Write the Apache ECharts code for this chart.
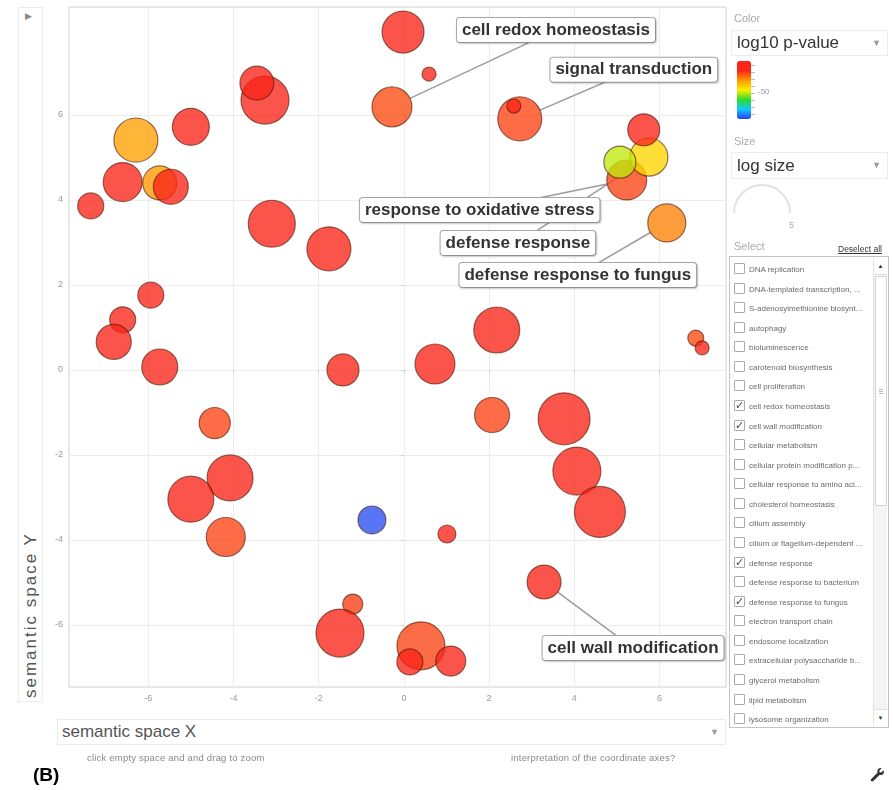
<!DOCTYPE html>
<html>
<head>
<meta charset="utf-8">
<title>semantic space</title>
<script src="https://cdn.jsdelivr.net/npm/echarts@6/dist/echarts.min.js"></script>
<style>
  html, body { margin: 0; padding: 0; background: #fff; width: 893px; height: 790px; overflow: hidden;
    font-family: Arial, "Liberation Sans", sans-serif; }
  #chart { position: absolute; left: 0; top: 0; width: 893px; height: 790px; }
  .abs { position: absolute; white-space: nowrap; }
  .box { position: absolute; box-sizing: border-box; border: 1px solid #ececec; background: #fff; }
  .cap { position: absolute; font-size: 11px; color: #aaa; }
  .drop { position: absolute; box-sizing: border-box; border: 1px solid #ececec; background: #fff;
    font-size: 17px; color: #333; padding-left: 5px; }
  .arrow { position: absolute; right: 6px; font-size: 9px; color: #999; }
  .row { position: absolute; left: 4px; width: 138px; height: 14px; font-size: 8px; color: #6a6a6a;
    white-space: nowrap; overflow: hidden; }
  .chk { position: absolute; left: 0; top: 0; width: 11px; height: 11px; box-sizing: border-box;
    border: 1px solid #aaa; border-radius: 1px; background: #fff; font-size: 11px; line-height: 10px;
    color: #444; text-align: center; font-family: "DejaVu Sans", sans-serif; }
  .row span { position: absolute; left: 15px; top: 1px; line-height: 11px; white-space: nowrap; }
  .tk { position: absolute; left: 751px; width: 4px; height: 1px; background: #bbb; }
</style>
</head>
<body>
<div id="chart"></div>

<!-- y axis title panel -->
<div class="box" style="left:18px;top:7px;width:25px;height:695px;"></div>
<div class="abs" style="left:25px;top:11px;font-size:9px;color:#888;">&#9654;</div>
<div class="abs" style="left:20px;top:526px;height:172px;width:22px;writing-mode:vertical-rl;transform:rotate(180deg);
  font-size:17px;letter-spacing:2px;color:#555;text-align:left;line-height:22px;">semantic space Y</div>

<!-- x axis title panel -->
<div class="box" style="left:57px;top:719px;width:669px;height:26px;">
  <div class="abs" style="left:4px;top:2px;font-size:17px;color:#555;">semantic space X</div>
  <div class="arrow" style="top:7px;">&#9660;</div>
</div>
<div class="abs" style="left:87px;top:752px;font-size:9.5px;color:#888;letter-spacing:0.2px;">click empty space and and drag to zoom</div>
<div class="abs" style="left:511px;top:752px;font-size:9.5px;color:#888;letter-spacing:0.2px;">interpretation of the coordinate axes?</div>
<div class="abs" style="left:33px;top:764px;font-size:19px;font-weight:bold;color:#000;">(B)</div>

<!-- side controls -->
<div class="cap" style="left:734px;top:12px;">Color</div>
<div class="drop" style="left:731px;top:30px;width:157px;height:26px;line-height:24px;">log10 p-value<div class="arrow" style="top:0;">&#9660;</div></div>
<div class="tk" style="top:65px"></div><div class="tk" style="top:72px"></div><div class="tk" style="top:79px"></div>
<div class="tk" style="top:86px"></div><div class="tk" style="top:93px"></div><div class="tk" style="top:100px"></div>
<div class="tk" style="top:107px"></div><div class="tk" style="top:114px"></div>
<div class="abs" style="left:758px;top:87px;font-size:8px;color:#999;">-50</div>

<div class="cap" style="left:734px;top:135px;">Size</div>
<div class="drop" style="left:731px;top:152px;width:157px;height:27px;line-height:25px;">log size<div class="arrow" style="top:0;">&#9660;</div></div>
<svg class="abs" style="left:728px;top:180px;" width="80" height="52">
  <path d="M6 33 A28 28 0 0 1 62 33" fill="none" stroke="#e2e2e2" stroke-width="2"/>
  <text x="61" y="48" font-size="9" fill="#aaa" font-family="Arial">5</text>
</svg>

<div class="cap" style="left:734px;top:240px;">Select</div>
<div class="abs" style="left:838px;top:244px;font-size:8.5px;color:#333;text-decoration:underline;">Deselect all</div>
<div id="list" class="box" style="left:729px;top:256px;width:160px;height:472px;border-color:#c4c4c4;"></div>

<!-- wrench -->
<svg class="abs" style="left:869px;top:767px;" width="16" height="16" viewBox="0 0 16 16">
  <path d="M14.5 3.2 L12.3 5.4 L10.6 5.2 L10.4 3.5 L12.6 1.3 C10.6 0.6 8.4 1.9 8.3 4.1 C8.3 4.6 8.4 5.1 8.6 5.5
           L2.2 11.9 C1.6 12.5 1.6 13.5 2.2 14.1 C2.8 14.7 3.8 14.7 4.4 14.1 L10.8 7.7 C11.2 7.9 11.7 8 12.2 8
           C14.4 7.9 15.7 5.7 14.5 3.2 Z" fill="#333"/>
</svg>

<script>
// GO terms listed in the selection panel (checked ones are labelled in the plot)
const selectTerms = [
  'DNA replication', 'DNA-templated transcription, ...', 'S-adenosylmethionine biosynt...',
  'autophagy', 'bioluminescence', 'carotenoid biosynthesis', 'cell proliferation',
  'cell redox homeostasis', 'cell wall modification', 'cellular metabolism',
  'cellular protein modification p...', 'cellular response to amino aci...',
  'cholesterol homeostasis', 'cilium assembly', 'cilium or flagellum-dependent ...',
  'defense response', 'defense response to bacterium', 'defense response to fungus',
  'electron transport chain', 'endosome localization', 'extracellular polysaccharide b...',
  'glycerol metabolism', 'lipid metabolism', 'lysosome organization'
];
const checkedTerms = ['cell redox homeostasis', 'cell wall modification',
  'defense response', 'defense response to fungus'];

// Bubble coordinates in semantic space, log10 p-value (colour) and log size (radius)
const semX = [-3.26, -3.45, -6.29, -5.00, -6.60, -5.73, -5.47, -7.35, -3.10, -1.76,
              -5.94, -6.60, -6.81, -5.73, -1.43, -0.02, 0.59, -0.28, 2.72, 2.58,
              5.23, 5.75, 5.63, 5.07, 6.17, 2.18, 0.73, 6.85, 7.00, 2.07,
              3.76, 4.06, 4.60, -0.75, 1.01, 3.29, 0.40, 0.14, 1.10, -4.44,
              -4.08, -5.00, -4.18, -1.20, -1.50];
const semY = [6.35, 6.75, 5.41, 5.72, 4.42, 4.40, 4.31, 3.86, 3.44, 2.85,
              1.76, 1.18, 0.66, 0.07, 0.00, 7.95, 6.96, 6.19, 5.91, 6.21,
              4.47, 5.01, 5.65, 4.89, 3.46, 0.94, 0.14, 0.75, 0.52, -1.06,
              -1.15, -2.38, -3.34, -3.53, -3.86, -4.99, -6.49, -6.87, -6.85, -1.25,
              -2.54, -3.04, -3.93, -5.51, -6.19];
const log10P = [-6, -6, -35, -6, -6, -33, -6, -6, -6, -6,
                -6, -6, -6, -6, -6, -6, -6, -22, -21, -4,
                -21, -45, -6, -55, -30, -6, -12, -22, -8, -21,
                -6, -6, -6, -98, -6, -1, -21, -4, -6, -21,
                -6, -6, -21, -20, -6];
const logSize = [4.00, 2.83, 3.67, 3.08, 3.25, 2.83, 2.92, 2.17, 3.92, 3.67,
                 2.17, 2.17, 2.92, 3.00, 2.67, 3.50, 1.17, 3.33, 3.67, 1.17,
                 3.33, 3.17, 2.67, 2.67, 3.17, 3.83, 3.33, 1.33, 1.17, 2.92,
                 4.33, 4.00, 4.25, 2.33, 1.50, 2.83, 4.00, 2.17, 2.50, 2.60,
                 3.83, 3.83, 3.25, 1.67, 4.00];
const termLabels = ['', '', '', '', '', '', '', '', '', '',
                    '', '', '', '', '', '', '', 'cell redox homeostasis', 'signal transduction', '',
                    'response to oxidative stress', 'defense response', '', '', 'defense response to fungus', '', '', '', '', '',
                    '', '', '', '', '', 'cell wall modification', '', '', '', '',
                    '', '', '', '', ''];
const tickValues = [-6, -4, -2, 0, 2, 4, 6];

// Callout placement (pixel offset of each label box centre from its bubble)
const calloutOffset = {
  'cell redox homeostasis': [164, -77],
  'signal transduction': [114, -49],
  'response to oxidative stress': [-147, 30],
  'defense response': [-131, 86],
  'defense response to fungus': [-89, 52],
  'cell wall modification': [89, 66]
};
const bubbleDiameter = function (s) { return s * 12; };

// selection list
const list = document.getElementById('list');
selectTerms.forEach(function (t, i) {
  const r = document.createElement('div');
  r.className = 'row';
  r.style.top = (6 + i * 19.57) + 'px';
  const c = document.createElement('div');
  c.className = 'chk';
  c.textContent = checkedTerms.indexOf(t) >= 0 ? '\u2713' : '';
  const s = document.createElement('span');
  s.textContent = t;
  r.appendChild(c); r.appendChild(s);
  list.appendChild(r);
});
// scrollbar
const sb = document.createElement('div');
sb.style.cssText = 'position:absolute;right:1px;top:1px;width:13px;bottom:1px;background:#f4f4f4;border-left:1px solid #e4e4e4;';
sb.innerHTML =
  '<div style="position:absolute;left:0;top:0;width:13px;height:16px;background:#fff;border-bottom:1px solid #ddd;font-size:6px;color:#333;text-align:center;line-height:16px;">&#9650;</div>' +
  '<div style="position:absolute;left:1px;top:18px;width:10px;height:228px;background:#fff;border:1px solid #d4d4d4;border-radius:1px;">' +
  '<div style="position:absolute;left:3px;top:112px;width:4px;height:1px;background:#bbb;"></div>' +
  '<div style="position:absolute;left:3px;top:114px;width:4px;height:1px;background:#bbb;"></div>' +
  '<div style="position:absolute;left:3px;top:116px;width:4px;height:1px;background:#bbb;"></div></div>' +
  '<div style="position:absolute;left:0;bottom:0;width:13px;height:16px;background:#fff;border-top:1px solid #ddd;font-size:6px;color:#333;text-align:center;line-height:16px;">&#9660;</div>';
list.appendChild(sb);

// bubbles
const points = semX.map(function (x, i) {
  return {
    value: [x, semY[i], log10P[i], logSize[i]],
    name: termLabels[i],
    label: { show: termLabels[i] !== '' }
  };
});

const chart = echarts.init(document.getElementById('chart'), null, { renderer: 'canvas' });
chart.setOption({
  animation: false,
  backgroundColor: 'transparent',
  grid: {
    left: 69, top: 7, width: 657, height: 680,
    show: true, borderColor: '#d0d0d0', borderWidth: 1, backgroundColor: 'transparent',
    outerBoundsMode: 'none'
  },
  xAxis: {
    type: 'value', min: -7.86, max: 7.56,
    axisLine: { show: false },
    axisTick: { show: true, customValues: tickValues, length: 3, lineStyle: { color: '#cfcfcf' } },
    axisLabel: { customValues: tickValues, color: '#999', fontSize: 9, margin: 7, fontFamily: 'Arial' },
    splitLine: { show: true, lineStyle: { color: '#ececec', width: 1 } }
  },
  yAxis: {
    type: 'value', min: -7.46, max: 8.54,
    axisLine: { show: false },
    axisTick: { show: true, customValues: tickValues, length: 3, lineStyle: { color: '#cfcfcf' } },
    axisLabel: { customValues: tickValues, color: '#999', fontSize: 9, margin: 6, fontFamily: 'Arial' },
    splitLine: { show: true, lineStyle: { color: '#ececec', width: 1 } }
  },
  visualMap: {
    type: 'continuous', seriesIndex: 0, dimension: 2,
    min: -100, max: 0, calculable: false, hoverLink: false,
    left: 737, top: 61, itemWidth: 14, itemHeight: 58, padding: 0,
    inRange: { color: ['#2a40ee', '#10c8ff', '#2cdc2c', '#ffee00', '#ff9a00', '#fa2418', '#fa2418'] },
    textStyle: { color: 'transparent' }
  },
  series: [{
    type: 'scatter',
    data: points,
    symbol: 'circle',
    symbolSize: function (v) { return bubbleDiameter(v[3]); },
    itemStyle: { opacity: 0.78, borderColor: 'rgba(70,20,5,0.75)', borderWidth: 1.2 },
    emphasis: { disabled: true },
    label: {
      show: false, position: 'inside', opacity: 1,
      formatter: function (p) { return termLabels[p.dataIndex]; },
      color: '#333', fontSize: 17, fontWeight: 'bold', fontFamily: 'Arial',
      backgroundColor: '#fff', borderColor: '#a8a8a8', borderWidth: 1, borderRadius: 3,
      padding: [4, 5, 3, 5],
      shadowColor: 'rgba(0,0,0,0.18)', shadowBlur: 2, shadowOffsetX: 1, shadowOffsetY: 1
    },
    labelLayout: function (p) {
      const off = calloutOffset[termLabels[p.dataIndex]];
      return off ? { dx: off[0], dy: off[1] } : {};
    }
  }]
});

// Callout leaders: from the bubble rim towards the label centre; the label box hides the rest
const leaders = [];
termLabels.forEach(function (t, i) {
  if (!t) return;
  const c = chart.convertToPixel({ seriesIndex: 0 }, [semX[i], semY[i]]);
  const off = calloutOffset[t];
  const len = Math.sqrt(off[0] * off[0] + off[1] * off[1]);
  const r = bubbleDiameter(logSize[i]) / 2;
  leaders.push({
    type: 'line', silent: true, z: 1,
    shape: { x1: c[0] + off[0] / len * r, y1: c[1] + off[1] / len * r, x2: c[0] + off[0], y2: c[1] + off[1] },
    style: { stroke: '#9c9c9c', lineWidth: 1.5 }
  });
});
chart.setOption({ graphic: leaders });
</script>
</body>
</html>
